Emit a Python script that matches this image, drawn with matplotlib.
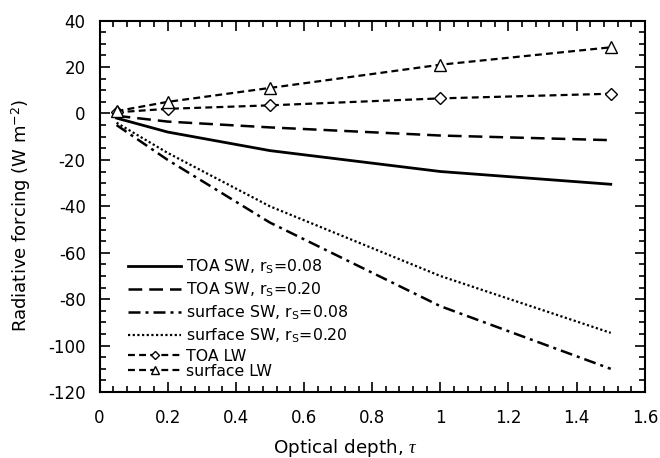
import matplotlib
matplotlib.use("Agg")
import matplotlib.pyplot as plt
from matplotlib.ticker import MultipleLocator

plt.rcParams['font.family'] = ['DejaVu Sans']
plt.rcParams['mathtext.fontset'] = 'custom'
plt.rcParams['mathtext.rm'] = 'DejaVu Sans'
plt.rcParams['mathtext.it'] = 'Liberation Serif:italic'
plt.rcParams['mathtext.bf'] = 'DejaVu Sans:bold'
plt.rcParams['axes.unicode_minus'] = False

tau = [0.05, 0.2, 0.5, 1.0, 1.5]
toa_sw_008 = [-2, -8, -16, -25, -30.5]
toa_sw_020 = [-1, -3.5, -6, -9.5, -11.5]
sfc_sw_008 = [-5, -20, -47, -83, -110]
sfc_sw_020 = [-4, -17, -40, -70, -94.5]
toa_lw = [0.5, 2, 3.5, 6.5, 8.5]
sfc_lw = [1, 5, 11, 21, 28.5]

labels_sw = ["TOA SW, r$_\\mathrm{S}$=0.08", "TOA SW, r$_\\mathrm{S}$=0.20",
             "surface SW, r$_\\mathrm{S}$=0.08", "surface SW, r$_\\mathrm{S}$=0.20"]
labels_lw = ["TOA LW", "surface LW"]
xtick_vals = [0, 0.2, 0.4, 0.6, 0.8, 1.0, 1.2, 1.4, 1.6]
xtick_labels = ['0', '0.2', '0.4', '0.6', '0.8', '1', '1.2', '1.4', '1.6']

fig = plt.figure(figsize=(6.6, 4.58), dpi=100)
ax = fig.add_axes([0.1508, 0.144, 0.8262, 0.811])

h1, = ax.plot(tau, toa_sw_008, color='black', lw=2.0, ls='-')
h2, = ax.plot(tau, toa_sw_020, color='black', lw=1.8, ls=(0, (5.5, 2.8)))
h3, = ax.plot(tau, sfc_sw_008, color='black', lw=1.8, ls=(0, (4.8, 2.0, 1.2, 2.0)))
h4, = ax.plot(tau, sfc_sw_020, color='black', lw=1.6, ls=(0, (1, 1.1)))
h5, = ax.plot(tau, toa_lw, color='black', lw=1.6, ls=(0, (3.1, 1.9)),
              marker='D', ms=6, mfc='white', mec='black', mew=1.0)
h6, = ax.plot(tau, sfc_lw, color='black', lw=1.6, ls=(0, (3.1, 1.9)),
              marker='^', ms=8, mfc='white', mec='black', mew=1.0)

ax.set_xlim(0, 1.6)
ax.set_ylim(-120, 40)
ax.set_xticks(xtick_vals)
ax.set_xticklabels(xtick_labels)
ax.xaxis.set_minor_locator(MultipleLocator(0.04))
ax.yaxis.set_major_locator(MultipleLocator(20))
ax.yaxis.set_minor_locator(MultipleLocator(5))
ax.tick_params(which='both', direction='in', top=True, right=True, width=1.2)
ax.tick_params(which='major', length=7, labelsize=12)
ax.tick_params(axis='x', which='major', pad=12.5)
ax.tick_params(axis='y', which='major', pad=10)
ax.tick_params(which='minor', length=4)
for s in ax.spines.values():
    s.set_linewidth(1.5)

ax.set_xlabel("Optical depth, $\\tau$", fontsize=13.2)
ax.xaxis.set_label_coords(0.452, -0.121)
ax.set_ylabel("Radiative forcing (W m$^{-2}$)", fontsize=13)
ax.yaxis.set_label_coords(-0.122, 0.477)

leg1 = ax.legend([h1, h2, h3, h4], labels_sw, loc='upper left',
                 bbox_to_anchor=(0.052, 0.362), frameon=False, fontsize=11.3,
                 handlelength=3.4, handletextpad=0.3, borderpad=0,
                 borderaxespad=0, labelspacing=0.3)
ax.add_artist(leg1)
ax.legend([h5, h6], labels_lw, loc='upper left',
          bbox_to_anchor=(0.052, 0.117), frameon=False, fontsize=11.3,
          handlelength=3.4, handletextpad=0.3, borderpad=0,
          borderaxespad=0, labelspacing=0.0, numpoints=1, markerscale=0.75)

fig.savefig("out.png", dpi=100)
